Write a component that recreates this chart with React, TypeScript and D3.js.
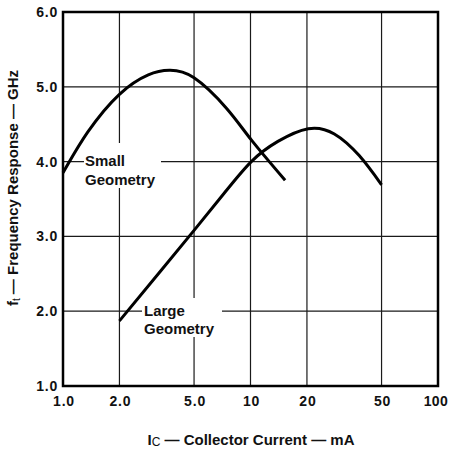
import React from "react";
import * as d3 from "d3";

const xTickValues = [1, 2, 5, 10, 20, 50, 100];
const xTickLabels = ["1.0", "2.0", "5.0", "10", "20", "50", "100"];
const yTickValues = [1, 2, 3, 4, 5, 6];
const yTickLabels = ["1.0", "2.0", "3.0", "4.0", "5.0", "6.0"];

const smallI = [1.0, 1.36, 2.0, 2.85, 3.7, 5.0, 7.46, 10.1, 15.3];
const smallF = [3.85, 4.4, 4.9, 5.16, 5.22, 5.12, 4.71, 4.29, 3.75];

const largeI = [2.0, 3.3, 5.0, 7.2, 10.1, 14.0, 20.3, 28.0, 38.0, 50];
const largeF = [1.87, 2.53, 3.08, 3.57, 4.0, 4.27, 4.44, 4.37, 4.08, 3.69];

const FONT = "'Liberation Sans', Arial, Helvetica, sans-serif";

export default function App() {
  const x = d3.scaleLog().domain([1, 100]).range([63, 438]);
  const y = d3.scaleLinear().domain([1, 6]).range([386, 12]);
  const line = d3
    .line<[number, number]>()
    .x((d) => x(d[0]))
    .y((d) => y(d[1]))
    .curve(d3.curveNatural);
  const smallPts: [number, number][] = smallI.map((v, i) => [v, smallF[i]]);
  const largePts: [number, number][] = largeI.map((v, i) => [v, largeF[i]]);
  const [x0, x1] = x.range();
  const [y0, y1] = y.range();

  return (
    <svg
      width={450}
      height={450}
      style={{ position: "absolute", left: 0, top: 0, background: "#fff" }}
      fontFamily={FONT}
    >
      <rect x={0} y={0} width={450} height={450} fill="#fff" />
      {xTickValues.slice(1, -1).map((v) => (
        <line key={"gx" + v} x1={x(v)} x2={x(v)} y1={y1} y2={y0} stroke="#1a1a1a" strokeWidth={1.2} />
      ))}
      {yTickValues.slice(1, -1).map((v) => (
        <line key={"gy" + v} x1={x0} x2={x1} y1={y(v)} y2={y(v)} stroke="#1a1a1a" strokeWidth={1.2} />
      ))}
      <rect x={84} y={143} width={77} height={45} fill="#fff" />
      <rect x={142} y={298} width={80} height={39} fill="#fff" />
      <path d={line(smallPts) || ""} fill="none" stroke="#000" strokeWidth={3} />
      <path d={line(largePts) || ""} fill="none" stroke="#000" strokeWidth={3} />
      <rect x={x0} y={y1} width={x1 - x0} height={y0 - y1} fill="none" stroke="#000" strokeWidth={2.5} />
      <g fontSize={15} fontWeight="bold" fill="#111">
        <text x={85} y={166}>Small</text>
        <text x={85} y={185}>Geometry</text>
        <text x={144} y={316}>Large</text>
        <text x={144} y={334}>Geometry</text>
      </g>
      <g fontSize={14} fontWeight="bold" fill="#111" letterSpacing={0.8}>
        {yTickValues.map((v, i) => (
          <text key={"yt" + v} x={58} y={y(v)} dy="0.36em" textAnchor="end">
            {yTickLabels[i]}
          </text>
        ))}
        {xTickValues.map((v, i) => (
          <text
            key={"xt" + v}
            x={i === xTickValues.length - 1 ? 448 : x(v) + 1}
            y={401}
            dy="0.36em"
            textAnchor={i === xTickValues.length - 1 ? "end" : "middle"}
            letterSpacing={i === xTickValues.length - 1 ? 0.3 : 0.8}
          >
            {xTickLabels[i]}
          </text>
        ))}
      </g>
      <text x={251} y={445} textAnchor="middle" fontSize={15} fontWeight="bold" fill="#111">
        I<tspan fontSize={12} fontWeight="normal" dy={1}>C</tspan>
        <tspan dy={-1}> — Collector Current — mA</tspan>
      </text>
      <text
        transform="translate(18,188) rotate(-90)"
        textAnchor="middle"
        fontSize={15}
        fontWeight="bold"
        fill="#111"
      >
        f<tspan fontSize={10} fontWeight="normal" dy={2}>t</tspan>
        <tspan dy={-2}> — Frequency Response — GHz</tspan>
      </text>
    </svg>
  );
}
